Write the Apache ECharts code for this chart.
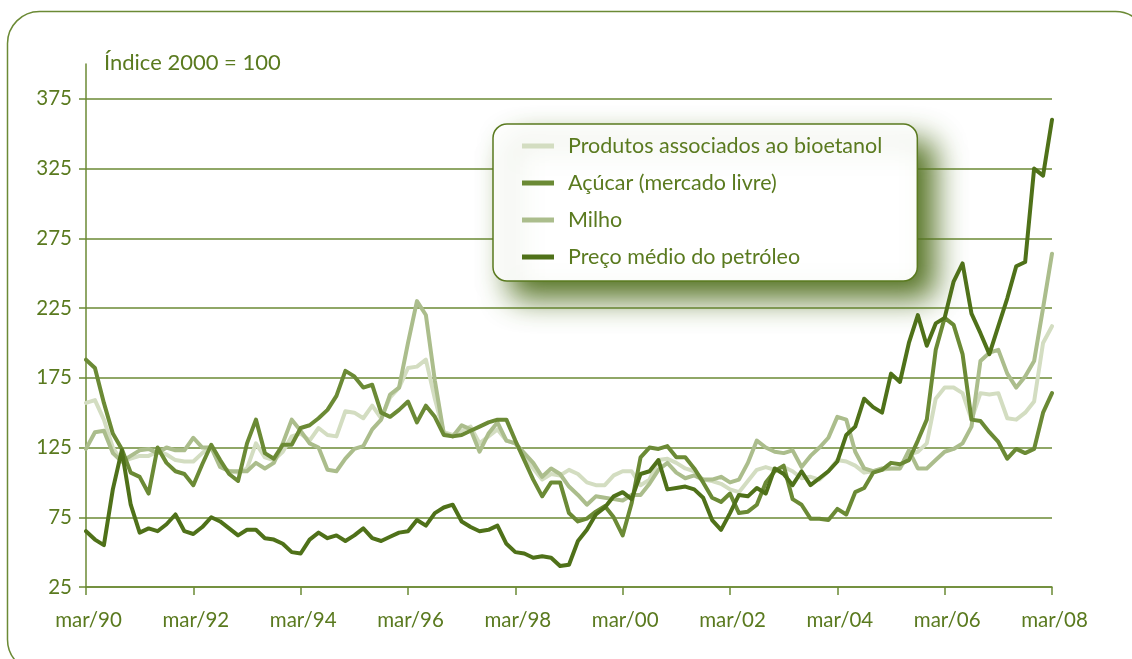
<!DOCTYPE html>
<html>
<head>
<meta charset="utf-8">
<script src="https://cdn.jsdelivr.net/npm/echarts@6/dist/echarts.min.js"></script>
<style>
  html, body { margin: 0; padding: 0; background: #ffffff; }
  #chart { width: 1132px; height: 659px; }
</style>
</head>
<body>
<div id="chart"></div>
<script>
// Índices bimestrais, mar/90 a mar/08 (2000 = 100)
const monthNames = ['jan', 'fev', 'mar', 'abr', 'mai', 'jun', 'jul', 'ago', 'set', 'out', 'nov', 'dez'];
const yTicks = [25, 75, 125, 175, 225, 275, 325, 375];
const seriesNames = ['Produtos associados ao bioetanol', 'Açúcar (mercado livre)', 'Milho', 'Preço médio do petróleo'];

const produtos = [
  157, 159, 145, 125, 115, 117, 119, 119, 122, 120, 116, 115, 115, 121, 126, 112, 108, 107, 110, 128,
  118, 116, 122, 133, 135, 130, 139, 134, 133, 151, 150, 146, 155, 146, 161, 168, 182, 183, 188, 160,
  136, 134, 137, 140, 128, 133, 138, 130, 128, 119, 110, 102, 106, 105, 109, 106, 100, 98, 98, 105,
  108, 108, 98, 102, 116, 117, 114, 110, 108, 102, 101, 99, 95, 93, 101, 109, 111, 109, 111, 108,
  103, 104, 102, 108, 116, 115, 112, 107, 108, 109, 110, 110, 120, 122, 128, 160, 168, 168, 164, 145,
  164, 163, 164, 146, 145, 150, 158, 200, 212
];
const acucar = [
  188, 182, 157, 135, 124, 107, 104, 92, 125, 114, 108, 106, 98, 113, 127, 116, 106, 101, 128, 145,
  121, 117, 127, 127, 139, 141, 146, 152, 162, 180, 176, 168, 170, 150, 147, 152, 158, 143, 155, 147,
  134, 133, 134, 137, 140, 143, 145, 145, 130, 116, 102, 90, 100, 100, 78, 72, 74, 79, 83, 75,
  62, 85, 118, 125, 124, 126, 118, 118, 110, 100, 89, 86, 92, 78, 79, 84, 100, 108, 112, 88,
  84, 74, 74, 73, 81, 77, 93, 96, 107, 109, 114, 113, 116, 130, 145, 195, 218, 213, 192, 145,
  144, 136, 129, 117, 124, 121, 124, 150, 164
];
const milho = [
  124, 136, 137, 121, 115, 119, 123, 124, 121, 125, 123, 123, 132, 125, 125, 111, 108, 108, 108, 114,
  110, 114, 128, 145, 137, 128, 125, 109, 108, 117, 124, 126, 138, 145, 163, 168, 200, 230, 220, 173,
  135, 133, 141, 138, 122, 135, 143, 130, 128, 121, 114, 104, 110, 106, 97, 91, 84, 90, 89, 88,
  87, 91, 91, 99, 109, 114, 107, 103, 105, 102, 102, 104, 100, 102, 114, 130, 125, 122, 121, 123,
  111, 119, 125, 132, 147, 145, 122, 110, 108, 110, 110, 110, 123, 110, 110, 116, 122, 124, 128, 140,
  187, 193, 195, 178, 168, 176, 187, 225, 264
];
const petroleo = [
  65, 59, 55, 95, 123, 84, 64, 67, 65, 70, 77, 65, 63, 68, 75, 72, 67, 62, 66, 66,
  60, 59, 56, 50, 49, 59, 64, 60, 62, 58, 62, 67, 60, 58, 61, 64, 65, 73, 69, 78,
  82, 84, 72, 68, 65, 66, 69, 56, 50, 49, 46, 47, 46, 40, 41, 58, 66, 77, 82, 90,
  93, 88, 106, 108, 116, 95, 96, 97, 95, 89, 73, 66, 78, 91, 90, 96, 92, 110, 106, 98,
  108, 98, 103, 108, 115, 134, 140, 160, 154, 150, 178, 172, 200, 220, 198, 214, 218, 244, 257, 221,
  207, 192, 212, 232, 255, 258, 325, 320, 360
];

// Rótulos bimestrais do eixo horizontal, a partir de março de 1990
const categories = produtos.map(function (_, k) {
  const m = 2 + 2 * k;
  const year = 1990 + Math.floor(m / 12);
  return monthNames[m % 12] + '/' + String(year).slice(2);
});

const textColor = '#5a7a1f';
const axisColor = '#6b8a35';
const fontFamily = 'Lato, "Open Sans", sans-serif';
const colors = ['#d3ddc1', '#6b8a35', '#abbd8c', '#4f7119'];

function lineSeries(name, data, color, z) {
  return {
    name: name,
    type: 'line',
    data: data,
    showSymbol: false,
    symbol: 'none',
    smooth: false,
    z: z,
    lineStyle: { color: color, width: 4, join: 'round', cap: 'round' },
    itemStyle: { color: color },
    emphasis: { disabled: true }
  };
}

const chart = echarts.init(document.getElementById('chart'), null, { renderer: 'canvas' });

chart.setOption({
  animation: false,
  backgroundColor: '#ffffff',
  textStyle: { fontFamily: fontFamily },
  title: {
    text: 'Índice 2000 = 100',
    left: 99,
    top: 47,
    textStyle: { color: textColor, fontSize: 22, fontWeight: 'normal', fontFamily: fontFamily }
  },
  graphic: [
    {
      type: 'rect',
      z: -10,
      shape: { x: 7.5, y: 11.5, width: 1140, height: 660, r: 32 },
      style: { fill: 'none', stroke: axisColor, lineWidth: 1.5 }
    }
  ],
  legend: {
    orient: 'vertical',
    left: 493,
    top: 124,
    data: seriesNames,
    icon: 'rect',
    itemWidth: 32,
    itemHeight: 5,
    itemGap: 13,
    padding: [10, 35, 12, 29],
    backgroundColor: '#ffffff',
    borderColor: '#5a7a1f',
    borderWidth: 1.5,
    borderRadius: 14,
    shadowBlur: 30,
    shadowOffsetX: 17,
    shadowOffsetY: 17,
    shadowColor: 'rgba(85,115,35,1)',
    selectedMode: false,
    textStyle: {
      color: textColor,
      fontSize: 21.5,
      lineHeight: 24,
      fontFamily: fontFamily,
      padding: [0, 0, 0, 9]
    }
  },
  grid: { left: 86, right: 80, top: 64, bottom: 72, containLabel: false },
  xAxis: {
    type: 'category',
    data: categories,
    boundaryGap: false,
    axisLine: { lineStyle: { color: axisColor, width: 1.5 } },
    axisTick: { show: true, interval: 11, length: 8, lineStyle: { color: axisColor, width: 1.5 } },
    axisLabel: { interval: 11, color: textColor, fontSize: 20.5, margin: 23, padding: [0, 0, 0, 5], fontFamily: fontFamily },
    splitLine: { show: false }
  },
  yAxis: {
    type: 'value',
    min: 25,
    max: 400,
    interval: 50,
    axisLine: { show: true, lineStyle: { color: axisColor, width: 1.5 } },
    axisTick: { show: true, length: 7, customValues: yTicks, lineStyle: { color: axisColor, width: 1.5 } },
    axisLabel: { customValues: yTicks, color: textColor, fontSize: 20.5, margin: 14, fontFamily: fontFamily },
    splitLine: { show: true, lineStyle: { color: axisColor, width: 1.5 } }
  },
  series: [
    lineSeries(seriesNames[0], produtos, colors[0], 2),
    lineSeries(seriesNames[2], milho, colors[2], 3),
    lineSeries(seriesNames[1], acucar, colors[1], 4),
    lineSeries(seriesNames[3], petroleo, colors[3], 5)
  ]
});
</script>
</body>
</html>
